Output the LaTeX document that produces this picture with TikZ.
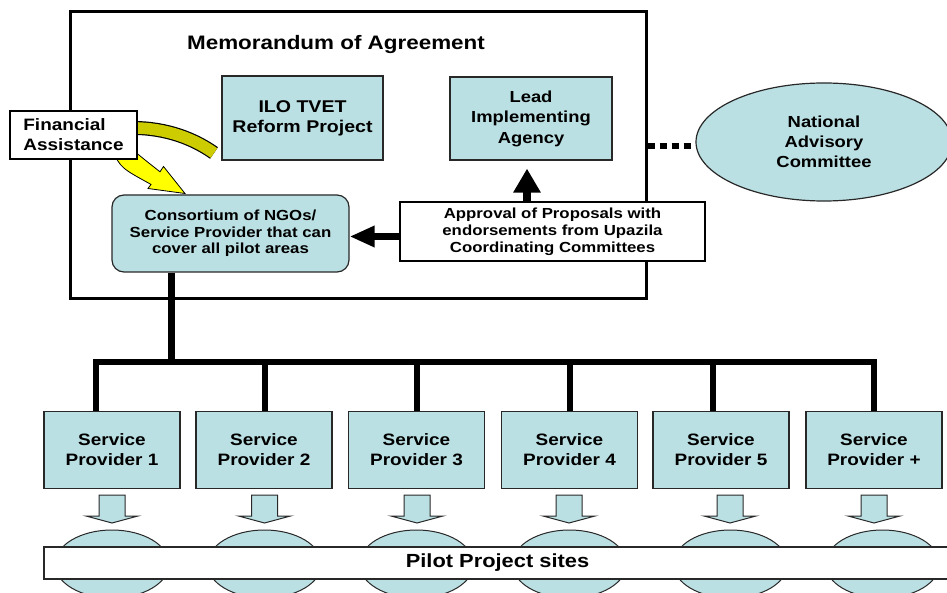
\documentclass[tikz,border=0pt]{standalone}
\usepackage{fontspec}
\setmainfont{Liberation Sans}[FakeStretch=1.15]
\usetikzlibrary{shapes.geometric,arrows.meta,backgrounds}
\definecolor{paleblue}{RGB}{187,224,227}
\definecolor{edgegray}{RGB}{40,40,40}
\definecolor{bandolive}{RGB}{204,204,0}
\definecolor{arrowyellow}{RGB}{255,255,0}
\begin{document}
\begin{tikzpicture}[x=1pt,y=-1pt,
  bluebox/.style={draw=edgegray, line width=1.2pt, fill=paleblue, inner sep=0pt, align=center},
  whitebox/.style={draw=black, line width=1.2pt, fill=white, inner sep=0pt},
  provider/.style={bluebox, minimum width=136pt, minimum height=77pt,
    font=\bfseries\fontsize{16.5}{20}\selectfont},
  site/.style={ellipse, draw=edgegray, line width=1pt, fill=paleblue, inner sep=0pt,
    minimum width=114pt, minimum height=68pt},
  thickline/.style={line width=6pt, line join=miter},
  downarrow/.style={draw=edgegray, line width=1pt, fill=paleblue}
]
\useasboundingbox (0,0) rectangle (947,593);
\clip (0,0) rectangle (947,593);

% Memorandum of Agreement frame
\node[draw=black, line width=3pt, minimum width=576pt, minimum height=287pt, inner sep=0pt]
  (moa) at (358,155.5) {};
\node[font=\bfseries\fontsize{19.5}{23}\selectfont] (title) at (336,45) {Memorandum of Agreement};

\node[whitebox, minimum width=127pt, minimum height=48pt, align=left,
  font=\bfseries\fontsize{16.5}{20}\selectfont] (fin) at (73.5,135) {Financial\\Assistance};
\node[bluebox, minimum width=161pt, minimum height=84pt,
  font=\bfseries\fontsize{17}{20}\selectfont] (ilo) at (302.5,118) {ILO TVET\\Reform Project};
\node[bluebox, minimum width=162pt, minimum height=83pt,
  font=\bfseries\fontsize{16}{20.5}\selectfont] (lead) at (531,118.5) {Lead\\Implementing\\Agency};
\node[bluebox, rounded corners=12pt, minimum width=237pt, minimum height=77pt,
  font=\bfseries\fontsize{14.6}{16.5}\selectfont] (cons) at (230.5,233.5)
  {Consortium of NGOs/\\Service Provider that can\\cover all pilot areas};
\node[whitebox, minimum width=305pt, minimum height=59pt, align=center,
  font=\bfseries\fontsize{14.6}{17}\selectfont] (appr) at (552.5,231.5)
  {Approval of Proposals with\\endorsements from Upazila\\Coordinating Committees};

% Financial flow: olive band from the ILO project, yellow arrow to the consortium
\begin{scope}[on background layer]
\coordinate (bandA) at (214,153);
\draw[line width=14pt, black] (bandA) .. controls (190,136) and (160,127) .. ([xshift=-10pt,yshift=7pt]fin.east);
\draw[line width=11.6pt, bandolive] (bandA) .. controls (190,136) and (160,127) .. ([xshift=-10pt,yshift=7pt]fin.east);
\filldraw[fill=arrowyellow, draw=black, line width=0.8pt]
  (112,150) .. controls (121,168) .. (151,184.4) -- (148,188.5) -- (185,193.5)
  -- (163.5,166.5) -- (160,171.8) .. controls (145,160) .. (128,146) -- cycle;
\end{scope}

% National Advisory Committee
\node[ellipse, draw=edgegray, line width=1.2pt, fill=paleblue, inner sep=0pt,
  minimum width=256pt, minimum height=118pt, align=center,
  font=\bfseries\fontsize{16}{20}\selectfont] (nac) at (824,142) {National\\Advisory\\Committee};
\coordinate (dotrow) at (0,146);
\draw[line width=6pt, dash pattern=on 7pt off 5pt] (moa.east |- dotrow) -- (nac.west |- dotrow);

% Approval arrows
\coordinate (upx) at (527,0);
\draw[line width=8pt, -{Triangle[length=24pt,width=26pt]}]
  (appr.north -| upx) -- ([yshift=-8pt]lead.south -| upx);
\coordinate (lrow) at (0,236.5);
\draw[line width=7pt, -{Triangle[length=25pt,width=20pt]}]
  (appr.west |- lrow) -- (cons.east |- lrow);

% Service providers
\node[provider] (sp1) at (112,450) {Service\\Provider 1};
\node[provider] (sp2) at (264,450) {Service\\Provider 2};
\node[provider] (sp3) at (416.5,450) {Service\\Provider 3};
\node[provider] (sp4) at (569.5,450) {Service\\Provider 4};
\node[provider] (sp5) at (721,450) {Service\\Provider 5};
\node[provider] (sp6) at (874,450) {Service\\Provider +};

% Distribution tree
\coordinate (trunk) at (171.5,362);
\coordinate (d1) at (95.5,362);
\coordinate (d2) at (265,362);
\coordinate (d3) at (417,362);
\coordinate (d4) at (570,362);
\coordinate (d5) at (713,362);
\coordinate (d6) at (874,362);
\draw[line width=7pt] (cons.south -| trunk) -- ([yshift=-3pt]trunk);
\draw[thickline] (sp1.north -| d1) -- (d1) -- (d6) -- (sp6.north -| d6);
\foreach \i in {2,3,4,5} \draw[thickline] (d\i) -- (sp\i.north -| d\i);

% Pilot sites
\foreach \x [count=\i] in {112,264.5,416.5,569.5,730.5,882.5}
  \node[site] (pilot\i) at (\x,564) {};
\node[draw=edgegray, line width=1.5pt, fill=white, inner sep=0pt,
  minimum width=907pt, minimum height=32pt,
  font=\bfseries\fontsize{19}{22}\selectfont] (pilotbar) at (497.5,563) {Pilot Project sites};

% Block arrows from providers to sites
\foreach \x in {112,264.5,417,569,730,874}
  \draw[downarrow] (\x-13,495) -- (\x+13,495) -- (\x+13,516) -- (\x+26,516)
    -- (\x,523) -- (\x-26,516) -- (\x-13,516) -- cycle;
\end{tikzpicture}
\end{document}
